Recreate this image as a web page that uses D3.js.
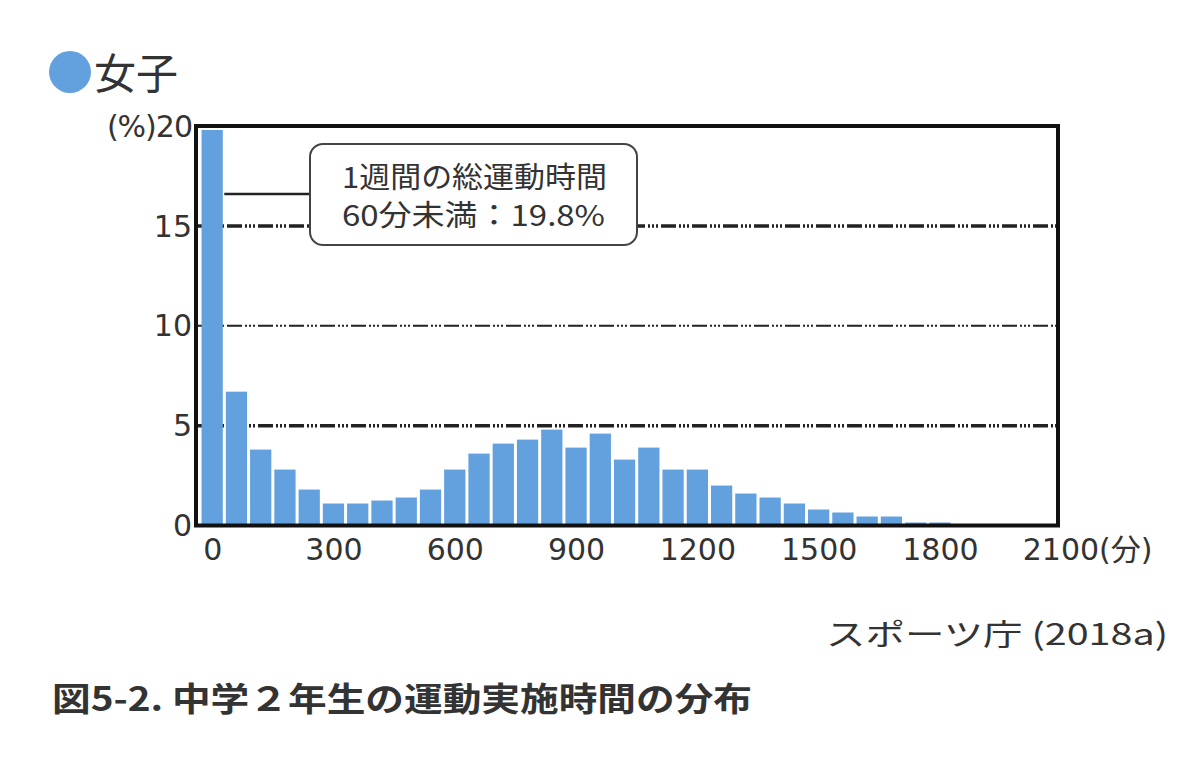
<!DOCTYPE html>
<html>
<head>
<meta charset="utf-8">
<script src="https://cdn.jsdelivr.net/npm/d3@7"></script>
<style>
  body { margin: 0; background: #fff; }
  svg { display: block; }
  text { font-family: "DejaVu Sans", "Noto Sans CJK JP", sans-serif; fill: #333; }
  .cjk { font-family: "Noto Sans CJK JP", sans-serif; }
</style>
</head>
<body>
<svg id="chart" width="1200" height="764"></svg>
<script>
// --- データ（女子・1週間の総運動時間の分布, 60分刻み）---
const binStarts = d3.range(0, 1860, 60);
const percents  = [19.8, 6.7, 3.8, 2.8, 1.8, 1.1, 1.1, 1.25, 1.4, 1.8,
                   2.8, 3.6, 4.1, 4.3, 4.8, 3.9, 4.6, 3.3, 3.9, 2.8,
                   2.8, 2.0, 1.6, 1.4, 1.1, 0.8, 0.65, 0.45, 0.45, 0.15, 0.15];
const xTicks    = [0, 300, 600, 900, 1200, 1500, 1800, 2100];
const yTicks    = [0, 5, 10, 15, 20];
const gridVals  = [5, 10, 15];

const bars = binStarts.map((m, i) => ({ m, v: percents[i] }));

const svg = d3.select('#chart');

// スケール
const x = d3.scaleLinear().domain([-40, 2092]).range([196, 1058]);
const y = d3.scaleLinear().domain([0, 20]).range([525.5, 126]);

// 凡例
svg.append('circle').attr('cx', 70).attr('cy', 72).attr('r', 21).attr('fill', '#62a0de');
svg.append('text').attr('class', 'cjk')
  .attr('x', 94).attr('y', 89).attr('font-size', 42).text('女子');

// 目盛り線（一点鎖線）
svg.append('g').selectAll('line').data(gridVals).join('line')
  .attr('x1', x.range()[0]).attr('x2', x.range()[1])
  .attr('y1', d => y(d)).attr('y2', d => y(d))
  .attr('stroke', '#222')
  .attr('stroke-width', d => d === 10 ? 2 : 3.5)
  .attr('stroke-dasharray', '15,3,2,2,2,2,2,3');

// 棒
const bw = x(60) - x(0);
svg.append('g').selectAll('rect').data(bars).join('rect')
  .attr('x', d => x(d.m) - bw / 2 + 1.5)
  .attr('width', bw - 3)
  .attr('y', d => y(d.v))
  .attr('height', d => y(0) - y(d.v))
  .attr('fill', '#62a0de');

// 枠
svg.append('rect')
  .attr('x', x.range()[0]).attr('y', y(20))
  .attr('width', x.range()[1] - x.range()[0]).attr('height', y(0) - y(20))
  .attr('fill', 'none').attr('stroke', '#111').attr('stroke-width', 4);

// y軸
const yAxis = svg.append('g')
  .attr('transform', 'translate(192,0)')
  .call(d3.axisLeft(y).tickValues(yTicks).tickSize(0).tickPadding(0)
    .tickFormat(d => d === 20 ? '(%)20' : d));
yAxis.select('.domain').remove();
yAxis.selectAll('text').attr('font-size', 30).attr('fill', '#333')
  .attr('font-family', '"DejaVu Sans", "Noto Sans CJK JP", sans-serif')
  .attr('dy', '0.34em');
yAxis.selectAll('.tick').filter(d => d === 20).select('text')
  .attr('letter-spacing', -1);

// x軸
const xAxis = svg.append('g')
  .attr('transform', `translate(0,${y(0) + 12})`)
  .call(d3.axisBottom(x).tickValues(xTicks).tickSize(0).tickPadding(0)
    .tickFormat(d => d === 2100 ? '2100(分)' : d));
xAxis.select('.domain').remove();
xAxis.selectAll('text').attr('font-size', 30).attr('fill', '#333')
  .attr('font-family', '"DejaVu Sans", "Noto Sans CJK JP", sans-serif')
  .attr('dy', '0.75em');
xAxis.selectAll('.tick').filter(d => d === 2100).select('text')
  .attr('text-anchor', 'start').attr('dx', -39);

// 吹き出し
const bx0 = 310, bx1 = 637, by0 = 144, by1 = 245;
svg.append('line')
  .attr('x1', x(0) + bw / 2).attr('x2', bx0)
  .attr('y1', y(16.6)).attr('y2', y(16.6))
  .attr('stroke', '#222').attr('stroke-width', 2.5);
svg.append('rect')
  .attr('x', bx0).attr('y', by0).attr('width', bx1 - bx0).attr('height', by1 - by0)
  .attr('rx', 13).attr('fill', '#fff').attr('stroke', '#444').attr('stroke-width', 2);
svg.append('text').attr('class', 'cjk')
  .attr('x', 342).attr('y', 188).attr('font-size', 29)
  .attr('textLength', 265).attr('lengthAdjust', 'spacingAndGlyphs')
  .text('1週間の総運動時間');
svg.append('text').attr('class', 'cjk')
  .attr('x', 342).attr('y', 226).attr('font-size', 29)
  .attr('textLength', 263).attr('lengthAdjust', 'spacingAndGlyphs')
  .text('60分未満：19.8%');

// 出典・図タイトル
svg.append('text').attr('class', 'cjk')
  .attr('x', 826).attr('y', 645).attr('font-size', 30)
  .attr('textLength', 342).attr('lengthAdjust', 'spacingAndGlyphs')
  .text('スポーツ庁 (2018a)');
svg.append('text').attr('class', 'cjk')
  .attr('x', 52).attr('y', 711).attr('font-size', 33).attr('font-weight', 'bold')
  .attr('fill', '#1a1a1a')
  .attr('textLength', 700).attr('lengthAdjust', 'spacingAndGlyphs')
  .text('図5-2. 中学２年生の運動実施時間の分布');
</script>
</body>
</html>
